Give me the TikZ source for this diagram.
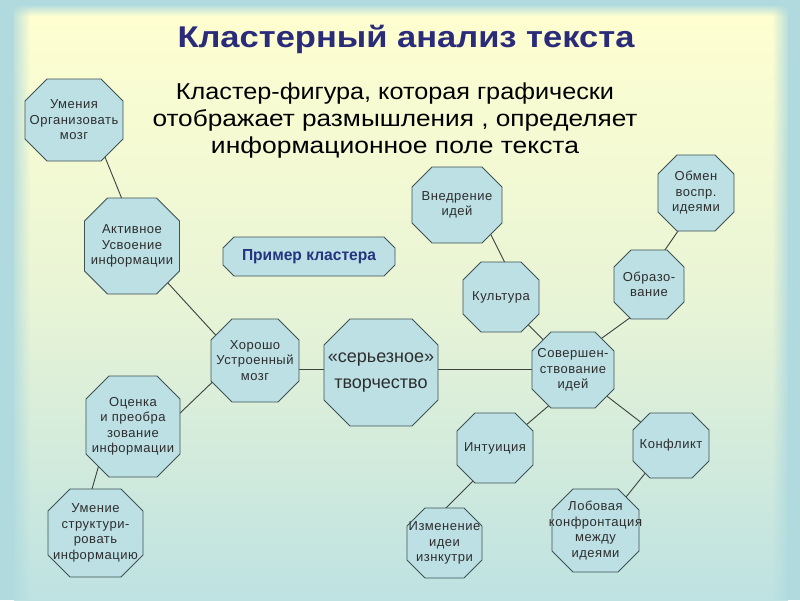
\documentclass[tikz,border=0pt]{standalone}
\usepackage{fontspec}
\setmainfont{Liberation Sans}
\newfontfamily\octfont[LetterSpace=4]{Liberation Sans}
\usepackage{graphicx}
\usetikzlibrary{fadings}
\pgfdeclarelayer{bg}\pgfdeclarelayer{lines}\pgfdeclarelayer{octs}
\pgfsetlayers{bg,lines,octs,main}
\definecolor{framec}{RGB}{176,218,222}
\definecolor{paleyel}{RGB}{255,255,208}
\definecolor{midgreen}{RGB}{232,244,214}
\definecolor{paleblue}{RGB}{190,226,226}
\definecolor{octfill}{RGB}{189,224,228}
\definecolor{octline}{RGB}{62,82,84}
\definecolor{octtextc}{RGB}{45,45,45}
\definecolor{linkc}{RGB}{60,64,64}
\definecolor{titleblue}{RGB}{42,44,122}
\definecolor{exblue}{RGB}{36,52,128}
\tikzfading[name=fadeR, left color=transparent!0, right color=transparent!100]
\tikzfading[name=fadeL, left color=transparent!100, right color=transparent!0]
\tikzfading[name=fadeD, top color=transparent!0, bottom color=transparent!100]
\tikzset{
  octtext/.style={inner sep=0pt, align=center, text=octtextc, font=\octfont\fontsize{13}{15.5}\selectfont},
  octshape/.style={fill=octfill, draw=octline, line width=0.9pt, line join=miter},
  link/.style={draw=linkc, line width=0.9pt},
  bigtext/.style={font=\fontsize{18}{26}\selectfont},
  extext/.style={font=\fontsize{16}{19}\bfseries, text=exblue},
  titletext/.style={font=\fontsize{30}{36}\bfseries, text=titleblue, inner sep=0pt},
  subtext/.style={font=\fontsize{23}{27}\selectfont, text=black, align=center, inner sep=0pt},
}
% [style]{name}{x}{y}{w}{h}{chamfer}{text}
\newcommand\octnode[8][]{%
  \node[octtext,#1] (#2) at (#3,#4) {#8};
  \pgfmathsetmacro\ohw{#5/2}\pgfmathsetmacro\ohh{#6/2}%
  \pgfmathsetmacro\oia{#5/2-#7}\pgfmathsetmacro\oib{#6/2-#7}%
  \begin{pgfonlayer}{octs}
    \filldraw[octshape]
      ([shift={(-\oia pt,\ohh pt)}]#2.center) -- ([shift={(\oia pt,\ohh pt)}]#2.center)
      -- ([shift={(\ohw pt,\oib pt)}]#2.center) -- ([shift={(\ohw pt,-\oib pt)}]#2.center)
      -- ([shift={(\oia pt,-\ohh pt)}]#2.center) -- ([shift={(-\oia pt,-\ohh pt)}]#2.center)
      -- ([shift={(-\ohw pt,-\oib pt)}]#2.center) -- ([shift={(-\ohw pt,\oib pt)}]#2.center)
      -- cycle;
  \end{pgfonlayer}}
\begin{document}
\begin{tikzpicture}[x=1pt,y=-1pt]
\useasboundingbox (0,0) rectangle (800,600);
\begin{pgfonlayer}{bg}
  \fill[framec] (0,0) rectangle (800,600);
  \shade[top color=paleyel, bottom color=paleblue, middle color=midgreen] (14,6) rectangle (788,600);
  \fill[framec, path fading=fadeR] (10,0) rectangle (30,600);
  \fill[framec, path fading=fadeL] (772,0) rectangle (790,600);
  \fill[framec, path fading=fadeD] (0,4) rectangle (800,16);
\end{pgfonlayer}

\node[titletext, anchor=base] (title) at (406,47) {\resizebox{457pt}{\height}{Кластерный анализ текста}};
\node[subtext] (sub) at (395,121) {\resizebox{438pt}{\height}{Кластер-фигура, которая графически}\\
  \resizebox{485pt}{\height}{отображает размышления , определяет}\\
  \resizebox{368pt}{\height}{информационное поле текста}};

\octnode{n1}{74}{120}{98}{82}{22}{Умения\\Организовать\\мозг}
\octnode{n2}{132}{246}{95}{96}{23}{Активное\\Усвоение\\информации}
\octnode[extext]{ex}{309}{256.5}{172}{39}{11}{\resizebox{134pt}{\height}{Пример кластера}}
\octnode{n4}{255}{360.5}{88}{83}{21}{Хорошо\\Устроенный\\мозг}
\octnode[bigtext]{n5}{381}{372.5}{114}{107}{26}{«серьезное»\\творчество}
\octnode{n6}{133}{426.5}{94}{101}{23}{Оценка\\и преобра\\зование\\информации}
\octnode{n7}{95.5}{533}{95}{88}{22}{Умение\\структури-\\ровать\\информацию}
\octnode{n8}{457}{205}{90}{76}{20}{Внедрение\\идей}
\octnode{n9}{501}{297}{76}{70}{18}{Культура}
\octnode{n10}{696}{193}{76}{76}{19}{Обмен\\воспр.\\идеями}
\octnode{n11}{649}{284.5}{70}{69}{17}{Образо-\\вание}
\octnode{n12}{573}{370}{82}{76}{19}{Совершен-\\ствование\\идей}
\octnode{n13}{495}{448}{76}{70}{18}{Интуиция}
\octnode{n14}{671}{445.5}{76}{65}{17}{Конфликт}
\octnode{n15}{444.5}{543}{75}{70}{18}{Изменение\\идеи\\изнкутри}
\octnode{n16}{595.5}{530.5}{87}{83}{21}{Лобовая\\конфронтация\\между\\идеями}

\begin{pgfonlayer}{lines}
  \draw[link] ([xshift=16pt]n1.center) -- ([xshift=9pt]n2.center);
  \draw[link] ([xshift=2pt]n2.center) -- ([xshift=-16pt]n4.center);
  \draw[link] ([xshift=33pt]n6.center) -- ([xshift=-20pt]n4.center);
  \draw[link] ([shift={(-29pt,-20.5pt)}]n6.center) -- ([shift={(-7.5pt,30pt)}]n7.center);
  \draw[link] ([yshift=-8.5pt]n4.center) -- ([yshift=3.5pt]n5.center);
  \draw[link] ([yshift=3.5pt]n5.center) -- ([yshift=1pt]n12.center);
  \draw[link] (n9.center) -- (n12.center);
  \draw[link] ([xshift=19pt]n8.center) -- ([xshift=21pt]n9.center);
  \draw[link] ([yshift=11pt]n12.center) -- ([yshift=-19.5pt]n11.center);
  \draw[link] ([yshift=11.5pt]n11.center) -- ([yshift=-12pt]n10.center);
  \draw[link] ([yshift=-15pt]n12.center) -- ([yshift=-3.5pt]n13.center);
  \draw[link] (n12.center) -- (n14.center);
  \draw[link] ([yshift=-11pt]n13.center) -- ([shift={(-6.5pt,27pt)}]n15.center);
  \draw[link] ([yshift=4.5pt]n14.center) -- ([shift={(14.5pt,13.5pt)}]n16.center);
\end{pgfonlayer}
\end{tikzpicture}
\end{document}
